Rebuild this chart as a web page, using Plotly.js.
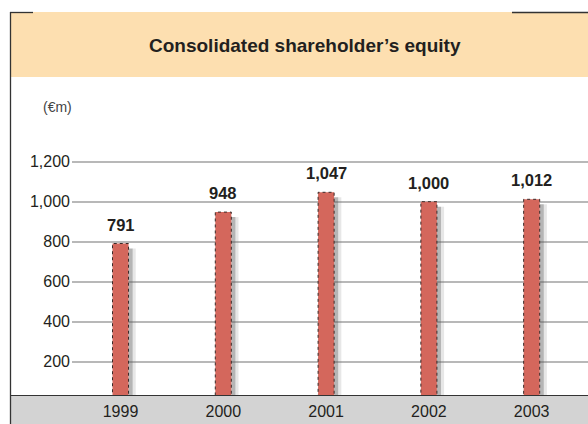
<!DOCTYPE html>
<html>
<head>
<meta charset="utf-8">
<script src="https://cdn.plot.ly/plotly-3.0.1.min.js"></script>
<style>html,body{margin:0;padding:0;background:#fff;}#chart{width:588px;height:424px;}</style>
</head>
<body>
<div id="chart"></div>
<script>
const years = ['1999', '2000', '2001', '2002', '2003'];
const equity = [791, 948, 1047, 1000, 1012];
const yTickVals = [200, 400, 600, 800, 1000, 1200];
const yTickText = ['200', '400', '600', '800', '1,000', '1,200'];
const titleText = 'Consolidated shareholder\u2019s equity';
const unitText = '(\u20acm)';

const FONT = '"Liberation Sans", Arial, sans-serif';
const W = 588, H = 424, ML = 72, MT = 140, MB = 29;
const PW = W - ML, PH = H - MT - MB;
const px = x => (x - ML) / PW;          // pixel -> paper x
const py = y => (H - MB - y) / PH;      // pixel -> paper y

const barW = 0.156;
const fmt = v => v.toLocaleString('en-US');

const shadow1 = {
  type: 'bar', x: years, y: equity.map(v => v - 25), width: 0.04, offset: barW / 2,
  marker: {color: 'rgba(90,90,90,0.45)', line: {width: 0}}, hoverinfo: 'skip', showlegend: false
};
const shadow2 = {
  type: 'bar', x: years, y: equity.map(v => v - 25), width: 0.03, offset: barW / 2 + 0.04,
  marker: {color: 'rgba(120,120,120,0.18)', line: {width: 0}}, hoverinfo: 'skip', showlegend: false
};
const bars = {
  type: 'bar', x: years, y: equity, width: barW,
  marker: {color: '#D4675C', line: {width: 0}},
  hoverinfo: 'x+y', showlegend: false
};

const shapes = [
  {type: 'rect', xref: 'paper', yref: 'paper', x0: px(11), x1: 1, y0: py(77), y1: py(12),
   fillcolor: '#FDDFB0', line: {width: 0}, layer: 'below'},
  {type: 'rect', xref: 'paper', yref: 'paper', x0: px(11), x1: 1, y0: py(424), y1: py(395),
   fillcolor: '#D3D3D3', line: {width: 0}, layer: 'below'},
  {type: 'line', xref: 'paper', yref: 'paper', x0: px(11), x1: 1, y0: py(395.5), y1: py(395.5),
   line: {color: '#333', width: 1.2}, layer: 'below'},
  {type: 'line', xref: 'paper', yref: 'paper', x0: px(10.5), x1: px(10.5), y0: py(424), y1: py(12),
   line: {color: '#333', width: 1.3}, layer: 'below'},
  {type: 'line', xref: 'paper', yref: 'paper', x0: px(10), x1: px(33), y0: py(12.5), y1: py(12.5),
   line: {color: '#333', width: 1.3}, layer: 'below'},
  {type: 'line', xref: 'paper', yref: 'paper', x0: px(512), x1: 1, y0: py(12.5), y1: py(12.5),
   line: {color: '#333', width: 1.3}, layer: 'below'}
];
equity.forEach((v, i) => {
  shapes.push({type: 'rect', xref: 'x', yref: 'y', x0: i - barW / 2, x1: i + barW / 2, y0: 0, y1: v,
    line: {color: '#3a2a28', width: 1, dash: 'dot'}, fillcolor: 'rgba(0,0,0,0)', layer: 'above'});
});

const annotations = [
  {xref: 'paper', yref: 'paper', x: px(305), y: py(45), text: '<b>' + titleText + '</b>', showarrow: false,
   font: {family: FONT, size: 19, color: '#231F20'}, xanchor: 'center', yanchor: 'middle'},
  {xref: 'paper', yref: 'paper', x: px(57), y: py(107), text: unitText, showarrow: false,
   font: {family: FONT, size: 14, color: '#444'}, xanchor: 'center', yanchor: 'middle'}
];
equity.forEach((v, i) => {
  annotations.push({xref: 'x', yref: 'y', x: i, y: v, text: '<b>' + fmt(v) + '</b>',
    showarrow: false, xanchor: 'center', yanchor: 'bottom', yshift: 8,
    font: {family: FONT, size: 16.5, color: '#231F20'}});
});

const layout = {
  width: W, height: H,
  margin: {l: ML, r: 0, t: MT, b: MB, pad: 0},
  paper_bgcolor: '#fff', plot_bgcolor: 'rgba(0,0,0,0)',
  barmode: 'overlay',
  showlegend: false,
  xaxis: {type: 'category', range: [-0.472, 4.548], showgrid: false, zeroline: false,
    showline: false, ticks: '', ticklabelstandoff: 5,
    tickfont: {family: FONT, size: 16, color: '#231F20'}, fixedrange: true},
  yaxis: {range: [33.5, 1308.5], tickvals: yTickVals, ticktext: yTickText, showgrid: true,
    gridcolor: '#B8B8B8', gridwidth: 1.8, zeroline: false, showline: false, ticks: '',
    ticklabelstandoff: 1,
    tickfont: {family: FONT, size: 16, color: '#231F20'}, fixedrange: true},
  shapes: shapes,
  annotations: annotations
};

Plotly.newPlot('chart', [shadow2, shadow1, bars], layout, {displayModeBar: false, staticPlot: true});
</script>
</body>
</html>
